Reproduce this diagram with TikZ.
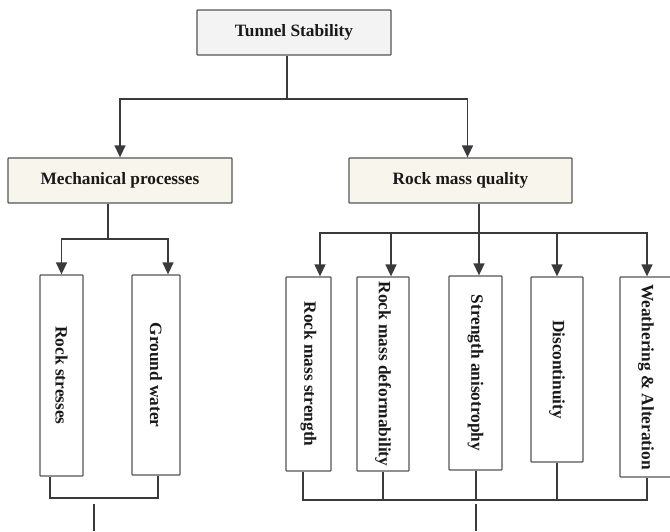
\documentclass[tikz,border=0pt]{standalone}
\usepackage{fontspec}
\setmainfont{Liberation Serif}
\usetikzlibrary{arrows.meta}
\definecolor{linec}{HTML}{3A3A3A}
\definecolor{boxline}{HTML}{555555}
\definecolor{topfill}{HTML}{F3F3F3}
\definecolor{midfill}{HTML}{F8F6EC}
\tikzset{
  basebox/.style={draw=boxline, line width=1.3pt, inner sep=0pt, rounded corners=0.8pt,
    font=\fontsize{17.3}{20}\selectfont\bfseries, text=black!90},
  topbox/.style={basebox, fill=topfill},
  midbox/.style={basebox, fill=midfill},
  vbox/.style={basebox, fill=white},
  conn/.style={draw=linec, line width=1.5pt},
  arr/.style={conn, -{Triangle[width=11pt,length=12pt]}},
}
\newcommand{\vtxt}[1]{\rotatebox{-90}{#1}}
\begin{document}
\begin{tikzpicture}[x=1pt,y=-1pt]
\useasboundingbox (0,0) rectangle (670,531);
\clip (0,0) rectangle (670,531);
% nodes
\node[topbox, minimum width=194pt, minimum height=45pt] (top) at (294,32.5) {Tunnel Stability};
\node[midbox, minimum width=224pt, minimum height=45pt] (mech) at (120,180.5) {Mechanical processes};
\node[midbox, minimum width=223pt, minimum height=45pt] (rmq) at (460.5,180.5) {Rock mass quality};
\node[vbox, minimum width=43pt, minimum height=201pt] (b1) at (61.5,375.5) {\vtxt{Rock stresses}};
\node[vbox, minimum width=48pt, minimum height=200pt] (b2) at (156,375) {\vtxt{Ground water}};
\node[vbox, minimum width=45pt, minimum height=194pt] (c1) at (308.5,374) {\vtxt{Rock mass strength}};
\node[vbox, minimum width=52pt, minimum height=194pt] (c2) at (383,374) {\vtxt{Rock mass deformability}};
\node[vbox, minimum width=53pt, minimum height=194pt] (c3) at (475.5,373) {\vtxt{Strength anisotrophy}};
\node[vbox, minimum width=52pt, minimum height=185pt] (c4) at (557,369.5) {\vtxt{Discontinuity}};
\node[vbox, minimum width=52pt, minimum height=200pt] (c5) at (646,377) {\vtxt{Weathering \& Alteration}};
% top level
\coordinate (tj) at ([xshift=-7pt]top.south |- 0,99);
\draw[conn] ([xshift=-7pt]top.south) -- (tj);
\draw[arr] (tj) -| (mech.north);
\draw[arr] (tj) -| ([xshift=7pt]rmq.north);
% mechanical
\coordinate (mj) at ([xshift=-12pt]mech.south |- 0,239);
\draw[conn] ([xshift=-12pt]mech.south) -- (mj);
\draw[arr] (mj) -| (b1.north);
\draw[arr] (mj) -| ([xshift=12pt]b2.north);
% rock mass quality
\coordinate (rj) at ([xshift=18.5pt]rmq.south |- 0,233);
\draw[conn] ([xshift=18.5pt]rmq.south) -- (rj);
\draw[arr] (rj) -| ([xshift=11.5pt]c1.north);
\draw[arr] (rj) -| ([xshift=8pt]c2.north);
\draw[arr] (rj) -- ([xshift=3.5pt]c3.north);
\draw[arr] (rj) -| (c4.north);
\draw[arr] (rj) -| ([xshift=1pt]c5.north);
% bottom joins left
\coordinate (lb1) at ([xshift=-11.5pt]b1.south |- 0,498);
\coordinate (lb2) at ([xshift=2pt]b2.south |- 0,498);
\draw[conn] ([xshift=-11.5pt]b1.south) -- (lb1) -- (lb2) -- ([xshift=2pt]b2.south);
\coordinate (lo1) at (94,504);
\coordinate (lo2) at (94,531);
\draw[conn] (lo1) -- (lo2);
% bottom joins right
\coordinate (rb1) at ([xshift=-5.5pt]c1.south |- 0,500);
\coordinate (rb5) at ([xshift=1pt]c5.south |- 0,500);
\draw[conn] ([xshift=-5.5pt]c1.south) -- (rb1) -- (rb5) -- ([xshift=1pt]c5.south);
\draw[conn] (c2.south) -- (c2.south |- rb1);
\draw[conn] ([xshift=0.5pt]c3.south) -- ([xshift=0.5pt]c3.south |- rb1);
\draw[conn] (c4.south) -- (c4.south |- rb1);
\coordinate (ro1) at (476,504);
\coordinate (ro2) at (476,531);
\draw[conn] (ro1) -- (ro2);
\end{tikzpicture}
\end{document}
